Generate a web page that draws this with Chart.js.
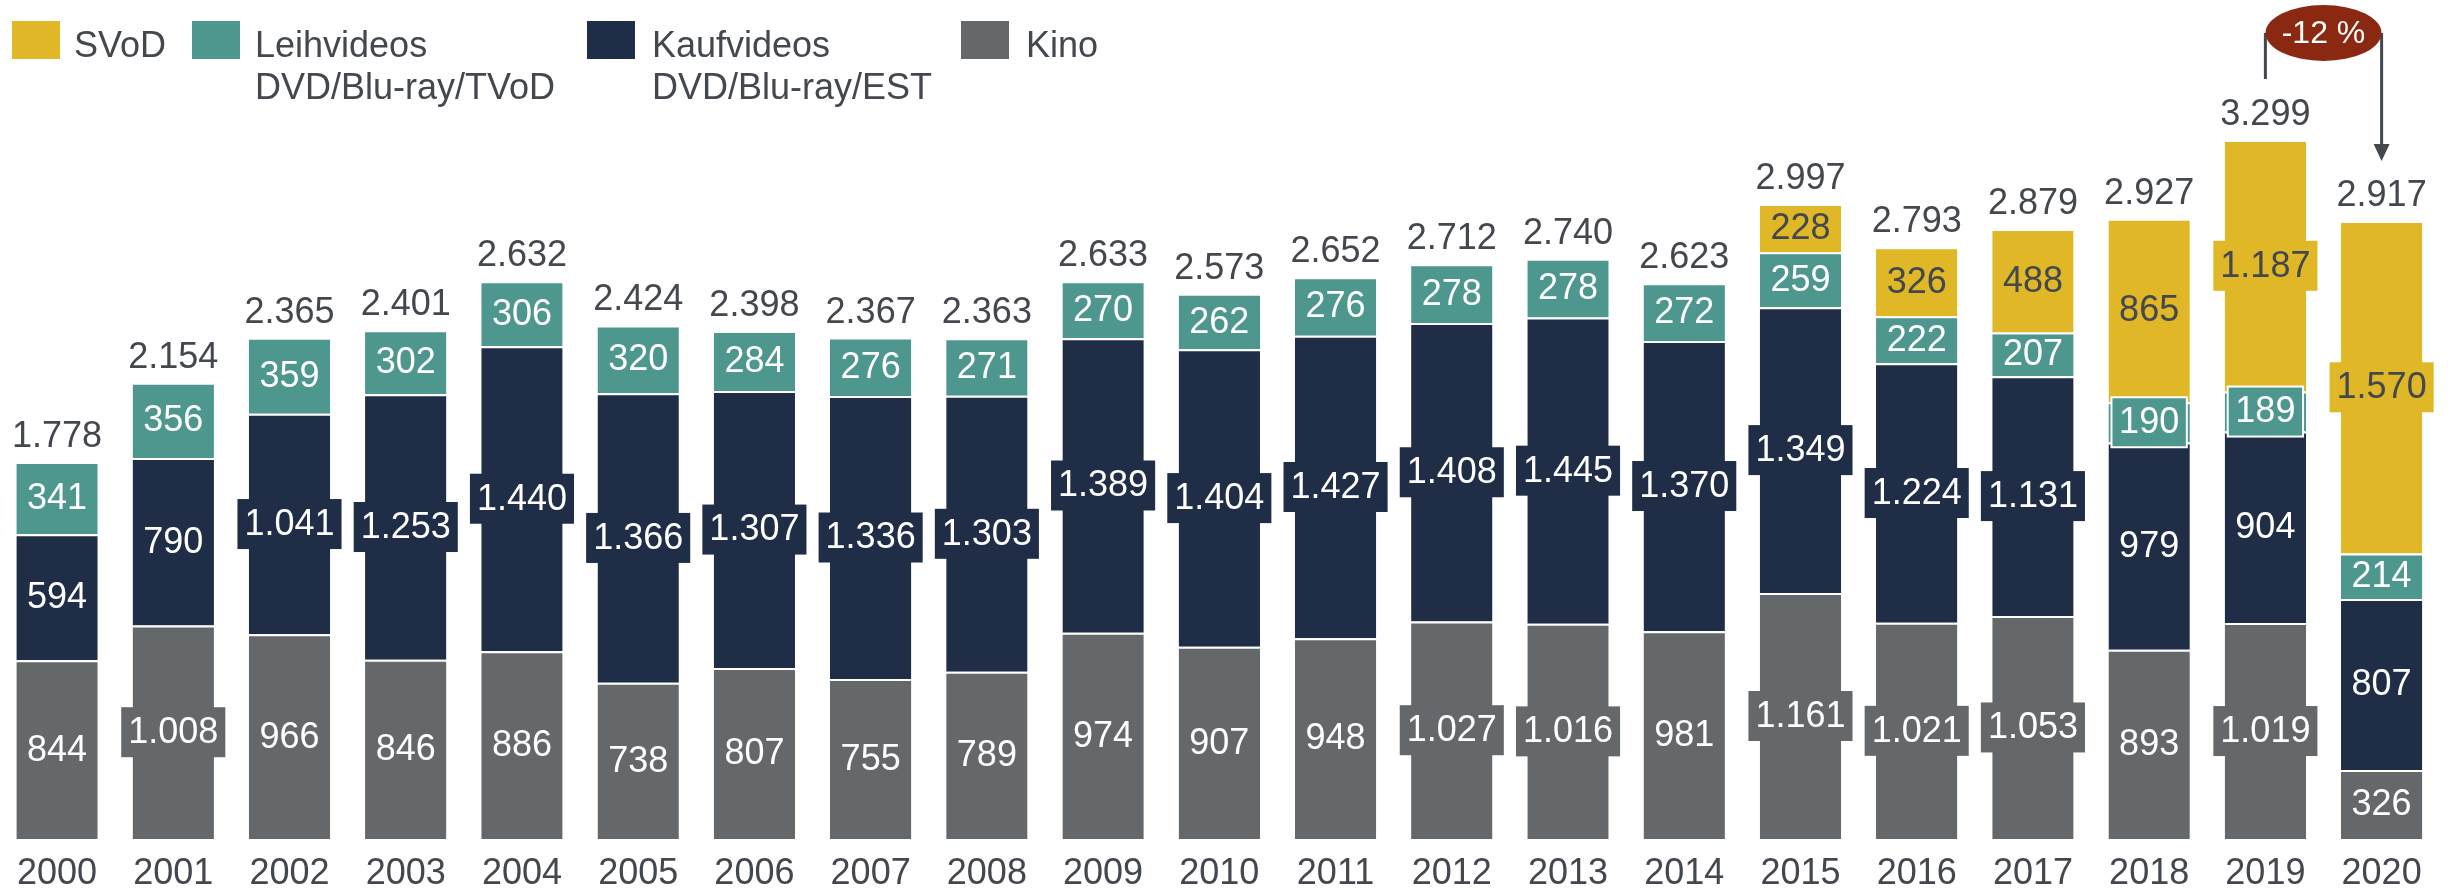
<!DOCTYPE html>
<html><head><meta charset="utf-8">
<script src="https://cdn.jsdelivr.net/npm/chart.js@4.4.1/dist/chart.umd.min.js"></script>
<style>html,body{margin:0;padding:0;background:#fff;overflow:hidden}</style>
</head><body>
<canvas id="c" width="2451" height="890"></canvas>
<script>
const years = ['2000','2001','2002','2003','2004','2005','2006','2007','2008','2009','2010','2011','2012','2013','2014','2015','2016','2017','2018','2019','2020'];
const kino  = [844,1008,966,846,886,738,807,755,789,974,907,948,1027,1016,981,1161,1021,1053,893,1019,326];
const kauf  = [594,790,1041,1253,1440,1366,1307,1336,1303,1389,1404,1427,1408,1445,1370,1349,1224,1131,979,904,807];
const leih  = [341,356,359,302,306,320,284,276,271,270,262,276,278,278,272,259,222,207,190,189,214];
const svod  = [null,null,null,null,null,null,null,null,null,null,null,null,null,null,null,228,326,488,865,1187,1570];
const totals = [1778,2154,2365,2401,2632,2424,2398,2367,2363,2633,2573,2652,2712,2740,2623,2997,2793,2879,2927,3299,2917];
const changeLabel = '-12 %';
const seriesNames = [['Kino'], ['Kaufvideos','DVD/Blu-ray/EST'], ['Leihvideos','DVD/Blu-ray/TVoD'], ['SVoD']];

const C_SVOD = '#E0B726', C_LEIH = '#4D978F', C_KAUF = '#1F2D46', C_KINO = '#65686B';
const TXT = '#43474E';
const FONT = '"Liberation Sans", Arial, sans-serif';

function fmt(v){ return String(v).replace(/\B(?=(\d{3})+(?!\d))/g, '.'); }
const pts = arr => arr.map((v,i)=>({x:i, y:v}));

const labelPlugin = {
  id:'labels',
  afterDatasetsDraw(chart){
    const ctx = chart.ctx;
    ctx.save();
    ctx.font = '36px ' + FONT;
    ctx.textAlign = 'center';
    ctx.textBaseline = 'middle';
    const tops = [];
    chart.data.datasets.forEach((ds, di) => {
      const meta = chart.getDatasetMeta(di);
      meta.data.forEach((el, i) => {
        const raw = ds.data[i].y;
        if (raw == null) return;
        const p = el.getProps(['x','y','base','width'], true);
        const top = Math.min(p.y, p.base), bot = Math.max(p.y, p.base);
        if (tops[i] === undefined || top < tops[i]) tops[i] = top;
        const cy = (top + bot) / 2;
        const txt = fmt(raw);
        const tw = ctx.measureText(txt).width;
        const segH = bot - top;
        if (segH < 42) {
          const bw = p.width - 6, bh = 50;
          ctx.fillStyle = ds.backgroundColor;
          ctx.fillRect(p.x - bw/2, cy - bh/2, bw, bh);
          ctx.strokeStyle = '#fff'; ctx.lineWidth = 2;
          ctx.strokeRect(p.x - bw/2, cy - bh/2, bw, bh);
        } else if (tw + 14 > p.width) {
          const bw = tw + 14, bh = 50;
          ctx.fillStyle = ds.backgroundColor;
          ctx.fillRect(p.x - bw/2, cy - bh/2, bw, bh);
        }
        ctx.fillStyle = ds.labelColor;
        ctx.fillText(txt, p.x, cy + 1);
      });
    });
    const xs = chart.scales.x;
    ctx.fillStyle = TXT;
    ctx.textBaseline = 'alphabetic';
    totals.forEach((t, i) => {
      ctx.fillText(fmt(t), xs.getPixelForValue(i), tops[i] - 15);
    });
    ctx.restore();
  },
  afterDraw(chart){
    const ctx = chart.ctx;
    ctx.save();
    const order = [3,2,1,0];
    const legendX = [[12,74],[192,255],[587,652],[961,1026]];
    ctx.font = '36px ' + FONT;
    ctx.textAlign = 'left';
    ctx.textBaseline = 'alphabetic';
    order.forEach((di, k) => {
      const ds = chart.data.datasets[di];
      ctx.fillStyle = ds.backgroundColor;
      ctx.fillRect(legendX[k][0], 21, 48, 38);
      ctx.fillStyle = TXT;
      seriesNames[di].forEach((line, li) => ctx.fillText(line, legendX[k][1], 57 + li * 42));
    });
    const xs = chart.scales.x;
    const x1 = xs.getPixelForValue(years.length - 2), x2 = xs.getPixelForValue(years.length - 1);
    const cyE = 33;
    ctx.strokeStyle = TXT; ctx.lineWidth = 3;
    ctx.beginPath();
    ctx.moveTo(x1, cyE); ctx.lineTo(x1, 79);
    ctx.moveTo(x2, cyE); ctx.lineTo(x2, 146);
    ctx.stroke();
    ctx.fillStyle = TXT;
    ctx.beginPath();
    ctx.moveTo(x2 - 8, 144); ctx.lineTo(x2 + 8, 144); ctx.lineTo(x2, 161); ctx.closePath();
    ctx.fill();
    ctx.fillStyle = '#8A2811';
    ctx.beginPath();
    ctx.ellipse((x1 + x2) / 2, cyE, 58, 28, 0, 0, Math.PI * 2);
    ctx.fill();
    ctx.fillStyle = '#fff';
    ctx.font = '32px ' + FONT;
    ctx.textAlign = 'center';
    ctx.textBaseline = 'middle';
    ctx.fillText(changeLabel, (x1 + x2) / 2, cyE + 1);
    ctx.restore();
  }
};

const common = { borderColor:'#fff', borderWidth:{top:2,left:0,right:0,bottom:0}, borderSkipped:'start', categoryPercentage:1, barPercentage:0.70 };

new Chart(document.getElementById('c'), {
  type:'bar',
  data:{ datasets:[
    Object.assign({ label:'Kino', data:pts(kino), backgroundColor:C_KINO, labelColor:'#fff' }, common),
    Object.assign({ label:'Kaufvideos', data:pts(kauf), backgroundColor:C_KAUF, labelColor:'#fff' }, common),
    Object.assign({ label:'Leihvideos', data:pts(leih), backgroundColor:C_LEIH, labelColor:'#fff' }, common),
    Object.assign({ label:'SVoD', data:pts(svod), backgroundColor:C_SVOD, labelColor:TXT }, common)
  ]},
  options:{
    responsive:false, animation:false, devicePixelRatio:1,
    layout:{ padding:{left:0,right:0,top:0,bottom:0} },
    plugins:{ legend:{display:false}, tooltip:{enabled:false} },
    scales:{
      x:{ type:'linear', stacked:true, min:-0.4596, max:20.597, offset:false,
          grid:{display:false, drawTicks:false}, border:{display:false},
          afterBuildTicks: s => { s.ticks = years.map((_, i) => ({value:i})); },
          afterFit: s => { s.height = 51; },
          ticks:{ callback:(v) => years[v], font:{family:FONT, size:36, lineHeight:1}, color:TXT, padding:17, maxRotation:0, autoSkip:false } },
      y:{ stacked:true, min:0, max:3960, display:false }
    }
  },
  plugins:[labelPlugin]
});
</script>
</body></html>
